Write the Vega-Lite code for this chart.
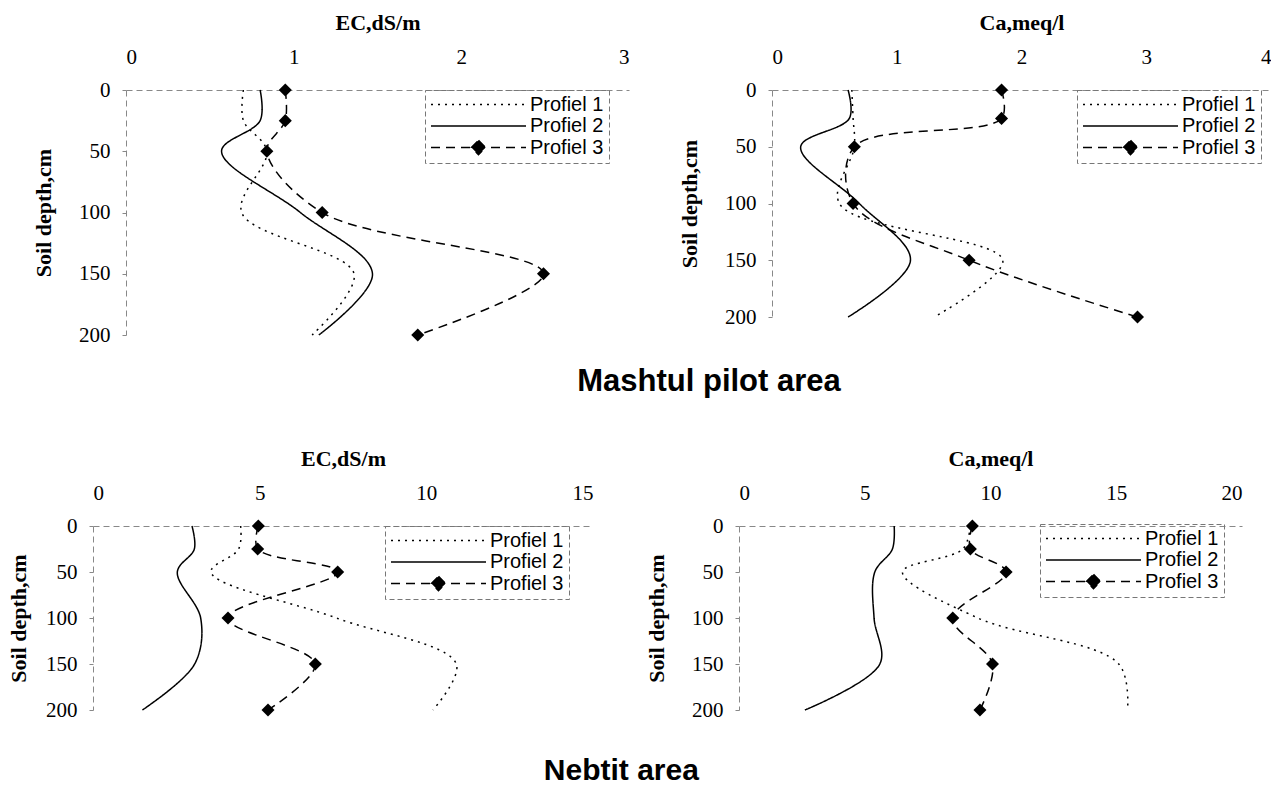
{
  "$schema": "https://vega.github.io/schema/vega-lite/v6.json",
  "background": "white",
  "padding": {"left": 0, "top": 11, "right": 0, "bottom": 0},
  "config": {
    "view": {"stroke": null},
    "font": "Liberation Serif",
    "style": {"guide-label": {"font": "Liberation Serif"}, "guide-title": {"font": "Liberation Serif"}},
    "axis": {
      "grid": false,
      "labelFont": "Liberation Serif",
      "labelFontSize": 21,
      "labelColor": "black",
      "titleFont": "Liberation Serif",
      "titleFontWeight": "bold",
      "titleFontSize": 22,
      "titleColor": "black",
      "domainColor": "#888888",
      "domainDash": [6, 4],
      "tickColor": "#888888",
      "tickSize": 4,
      "format": "d"
    },
    "axisX": {"labelPadding": 23, "titlePadding": 12, "ticks": false},
    "axisY": {"labelPadding": 12, "titlePadding": 23},
    "legend": {
      "title": null,
      "orient": "none",
      "legendX": 300,
      "legendY": 0,
      "symbolType": "stroke",
      "symbolSize": 9025,
      "clipHeight": 19,
      "rowPadding": 0.5,
      "labelOffset": 3,
      "labelFont": "Liberation Sans",
      "labelFontSize": 20,
      "labelColor": "black",
      "symbolStrokeColor": "black",
      "symbolStrokeWidth": 1.5,
      "strokeColor": "#777777",
      "padding": 5
    }
  },
  "datasets": {
    "ecm": [
      {"profile": "Profiel 1", "depth": 0, "value": 0.70},
      {"profile": "Profiel 1", "depth": 25, "value": 0.70},
      {"profile": "Profiel 1", "depth": 50, "value": 0.84},
      {"profile": "Profiel 1", "depth": 100, "value": 0.69},
      {"profile": "Profiel 1", "depth": 150, "value": 1.36},
      {"profile": "Profiel 1", "depth": 200, "value": 1.11},
      {"profile": "Profiel 2", "depth": 0, "value": 0.80},
      {"profile": "Profiel 2", "depth": 25, "value": 0.80},
      {"profile": "Profiel 2", "depth": 50, "value": 0.57},
      {"profile": "Profiel 2", "depth": 100, "value": 1.04},
      {"profile": "Profiel 2", "depth": 150, "value": 1.47},
      {"profile": "Profiel 2", "depth": 200, "value": 1.15},
      {"profile": "Profiel 3", "depth": 0, "value": 0.95},
      {"profile": "Profiel 3", "depth": 25, "value": 0.95},
      {"profile": "Profiel 3", "depth": 50, "value": 0.84},
      {"profile": "Profiel 3", "depth": 100, "value": 1.17},
      {"profile": "Profiel 3", "depth": 150, "value": 2.49},
      {"profile": "Profiel 3", "depth": 200, "value": 1.74}
    ],
    "cam": [
      {"profile": "Profiel 1", "depth": 0, "value": 0.64},
      {"profile": "Profiel 1", "depth": 25, "value": 0.65},
      {"profile": "Profiel 1", "depth": 50, "value": 0.66},
      {"profile": "Profiel 1", "depth": 100, "value": 0.54},
      {"profile": "Profiel 1", "depth": 150, "value": 1.85},
      {"profile": "Profiel 1", "depth": 200, "value": 1.30},
      {"profile": "Profiel 2", "depth": 0, "value": 0.61},
      {"profile": "Profiel 2", "depth": 25, "value": 0.62},
      {"profile": "Profiel 2", "depth": 50, "value": 0.23},
      {"profile": "Profiel 2", "depth": 100, "value": 0.70},
      {"profile": "Profiel 2", "depth": 150, "value": 1.11},
      {"profile": "Profiel 2", "depth": 200, "value": 0.61},
      {"profile": "Profiel 3", "depth": 0, "value": 1.84},
      {"profile": "Profiel 3", "depth": 25, "value": 1.84},
      {"profile": "Profiel 3", "depth": 50, "value": 0.66},
      {"profile": "Profiel 3", "depth": 100, "value": 0.65},
      {"profile": "Profiel 3", "depth": 150, "value": 1.58},
      {"profile": "Profiel 3", "depth": 200, "value": 2.93}
    ],
    "ecn": [
      {"profile": "Profiel 1", "depth": 0, "value": 4.43},
      {"profile": "Profiel 1", "depth": 25, "value": 4.37},
      {"profile": "Profiel 1", "depth": 50, "value": 3.54},
      {"profile": "Profiel 1", "depth": 100, "value": 7.3},
      {"profile": "Profiel 1", "depth": 150, "value": 10.9},
      {"profile": "Profiel 1", "depth": 200, "value": 10.2},
      {"profile": "Profiel 2", "depth": 0, "value": 2.97},
      {"profile": "Profiel 2", "depth": 25, "value": 3.04},
      {"profile": "Profiel 2", "depth": 50, "value": 2.53},
      {"profile": "Profiel 2", "depth": 100, "value": 3.23},
      {"profile": "Profiel 2", "depth": 150, "value": 3.05},
      {"profile": "Profiel 2", "depth": 200, "value": 1.48},
      {"profile": "Profiel 3", "depth": 0, "value": 4.96},
      {"profile": "Profiel 3", "depth": 25, "value": 4.94},
      {"profile": "Profiel 3", "depth": 50, "value": 7.34},
      {"profile": "Profiel 3", "depth": 100, "value": 4.05},
      {"profile": "Profiel 3", "depth": 150, "value": 6.67},
      {"profile": "Profiel 3", "depth": 200, "value": 5.25}
    ],
    "can": [
      {"profile": "Profiel 1", "depth": 0, "value": 9.2},
      {"profile": "Profiel 1", "depth": 25, "value": 8.9},
      {"profile": "Profiel 1", "depth": 50, "value": 6.5},
      {"profile": "Profiel 1", "depth": 100, "value": 9.5},
      {"profile": "Profiel 1", "depth": 150, "value": 15.1},
      {"profile": "Profiel 1", "depth": 200, "value": 15.45},
      {"profile": "Profiel 2", "depth": 0, "value": 6.17},
      {"profile": "Profiel 2", "depth": 25, "value": 6.1},
      {"profile": "Profiel 2", "depth": 50, "value": 5.4},
      {"profile": "Profiel 2", "depth": 100, "value": 5.37},
      {"profile": "Profiel 2", "depth": 150, "value": 5.6},
      {"profile": "Profiel 2", "depth": 200, "value": 2.62},
      {"profile": "Profiel 3", "depth": 0, "value": 9.28},
      {"profile": "Profiel 3", "depth": 25, "value": 9.2},
      {"profile": "Profiel 3", "depth": 50, "value": 10.62},
      {"profile": "Profiel 3", "depth": 100, "value": 8.5},
      {"profile": "Profiel 3", "depth": 150, "value": 10.08},
      {"profile": "Profiel 3", "depth": 200, "value": 9.58}
    ]
  },
  "spacing": 50,
  "resolve": {"scale": {"strokeDash": "independent"}},
  "vconcat": [
    {
      "title": {"text": "Mashtul pilot area", "orient": "bottom", "anchor": "middle", "font": "Liberation Sans", "fontSize": 31, "fontWeight": "bold", "color": "black", "offset": 22, "dx": 72},
      "columns": 2,
      "align": "none",
      "spacing": 0,
      "resolve": {"scale": {"strokeDash": "independent"}},
      "concat": [
        {"width": 29, "height": 10, "data": {"values": [{"a": 1}]}, "mark": {"type": "point", "opacity": 0}, "encoding": {}},
        {
          "spacing": 49,
          "resolve": {"scale": {"strokeDash": "independent"}},
          "hconcat": [
            {
              "width": 503, "height": 245,
              "data": {"name": "ecm"},
              "layer": [
                {"mark": {"type": "line", "interpolate": "catmull-rom", "color": "black", "strokeWidth": 1.5},
                 "encoding": {
                   "x": {"field": "value", "type": "quantitative", "scale": {"domain": [0, 3], "nice": false}, "axis": {"orient": "top", "values": [0, 1, 2, 3], "title": "EC,dS/m"}},
                   "y": {"field": "depth", "type": "quantitative", "scale": {"domain": [0, 200], "reverse": true, "nice": false}, "axis": {"values": [0, 50, 100, 150, 200], "title": "Soil depth,cm"}},
                   "strokeDash": {"field": "profile", "type": "nominal", "scale": {"domain": ["Profiel 1", "Profiel 2", "Profiel 3"], "range": [[2, 5], [1, 0], [9, 6]]},
                     "legend": {"legendX": 299, "legendY": 0, "encode": {"symbols": {"update": {"stroke": {"value": "black"}, "strokeWidth": {"value": 1.5}, "shape": {"signal": "datum.value === 'Profiel 3' ? 'M-1,0H1M0,-0.15L0.15,0L0,0.15L-0.15,0Z' : 'stroke'"}, "fill": {"signal": "datum.value === 'Profiel 3' ? 'black' : 'transparent'"}}}, "legend": {"update": {"strokeDash": {"value": [5, 3]}}}}}},
                   "order": {"field": "depth", "type": "quantitative"}
                 }},
                {"transform": [{"filter": "datum.profile === 'Profiel 3'"}],
                 "mark": {"type": "point", "shape": "diamond", "filled": true, "color": "black", "size": 170, "opacity": 1},
                 "encoding": {"x": {"field": "value", "type": "quantitative"}, "y": {"field": "depth", "type": "quantitative"}}}
              ]
            },
            {
              "width": 499, "height": 227,
              "data": {"name": "cam"},
              "layer": [
                {"mark": {"type": "line", "interpolate": "catmull-rom", "color": "black", "strokeWidth": 1.5},
                 "encoding": {
                   "x": {"field": "value", "type": "quantitative", "scale": {"domain": [0, 4], "nice": false}, "axis": {"orient": "top", "values": [0, 1, 2, 3, 4], "title": "Ca,meq/l"}},
                   "y": {"field": "depth", "type": "quantitative", "scale": {"domain": [0, 200], "reverse": true, "nice": false}, "axis": {"values": [0, 50, 100, 150, 200], "title": "Soil depth,cm"}},
                   "strokeDash": {"field": "profile", "type": "nominal", "scale": {"domain": ["Profiel 1", "Profiel 2", "Profiel 3"], "range": [[2, 5], [1, 0], [9, 6]]},
                     "legend": {"legendX": 305, "legendY": 0, "encode": {"symbols": {"update": {"stroke": {"value": "black"}, "strokeWidth": {"value": 1.5}, "shape": {"signal": "datum.value === 'Profiel 3' ? 'M-1,0H1M0,-0.15L0.15,0L0,0.15L-0.15,0Z' : 'stroke'"}, "fill": {"signal": "datum.value === 'Profiel 3' ? 'black' : 'transparent'"}}}, "legend": {"update": {"strokeDash": {"value": [5, 3]}}}}}},
                   "order": {"field": "depth", "type": "quantitative"}
                 }},
                {"transform": [{"filter": "datum.profile === 'Profiel 3'"}],
                 "mark": {"type": "point", "shape": "diamond", "filled": true, "color": "black", "size": 170, "opacity": 1},
                 "encoding": {"x": {"field": "value", "type": "quantitative"}, "y": {"field": "depth", "type": "quantitative"}}}
              ]
            }
          ]
        }
      ]
    },
    {
      "title": {"text": "Nebtit area", "orient": "bottom", "anchor": "middle", "font": "Liberation Sans", "fontSize": 30, "fontWeight": "bold", "color": "black", "offset": 36},
      "columns": 2,
      "align": "none",
      "spacing": 0,
      "resolve": {"scale": {"strokeDash": "independent"}},
      "concat": [
        {"width": 1, "height": 10, "data": {"values": [{"a": 1}]}, "mark": {"type": "point", "opacity": 0}, "encoding": {}},
        {
          "spacing": 52,
          "resolve": {"scale": {"strokeDash": "independent"}},
          "hconcat": [
            {
              "width": 500, "height": 184,
              "data": {"name": "ecn"},
              "layer": [
                {"mark": {"type": "line", "interpolate": "catmull-rom", "color": "black", "strokeWidth": 1.5},
                 "encoding": {
                   "x": {"field": "value", "type": "quantitative", "scale": {"domain": [0, 15], "nice": false}, "axis": {"orient": "top", "values": [0, 5, 10, 15], "title": "EC,dS/m"}},
                   "y": {"field": "depth", "type": "quantitative", "scale": {"domain": [0, 200], "reverse": true, "nice": false}, "axis": {"values": [0, 50, 100, 150, 200], "title": "Soil depth,cm", "titlePadding": 15}},
                   "strokeDash": {"field": "profile", "type": "nominal", "scale": {"domain": ["Profiel 1", "Profiel 2", "Profiel 3"], "range": [[2, 5], [1, 0], [9, 6]]},
                     "legend": {"legendX": 292, "legendY": 0, "encode": {"symbols": {"update": {"stroke": {"value": "black"}, "strokeWidth": {"value": 1.5}, "shape": {"signal": "datum.value === 'Profiel 3' ? 'M-1,0H1M0,-0.15L0.15,0L0,0.15L-0.15,0Z' : 'stroke'"}, "fill": {"signal": "datum.value === 'Profiel 3' ? 'black' : 'transparent'"}}}, "legend": {"update": {"strokeDash": {"value": [5, 3]}}}}}},
                   "order": {"field": "depth", "type": "quantitative"}
                 }},
                {"transform": [{"filter": "datum.profile === 'Profiel 3'"}],
                 "mark": {"type": "point", "shape": "diamond", "filled": true, "color": "black", "size": 170, "opacity": 1},
                 "encoding": {"x": {"field": "value", "type": "quantitative"}, "y": {"field": "depth", "type": "quantitative"}}}
              ]
            },
            {
              "width": 503, "height": 184,
              "data": {"name": "can"},
              "layer": [
                {"mark": {"type": "line", "interpolate": "catmull-rom", "color": "black", "strokeWidth": 1.5},
                 "encoding": {
                   "x": {"field": "value", "type": "quantitative", "scale": {"domain": [0, 20], "nice": false}, "axis": {"orient": "top", "values": [0, 5, 10, 15, 20], "title": "Ca,meq/l"}},
                   "y": {"field": "depth", "type": "quantitative", "scale": {"domain": [0, 200], "reverse": true, "nice": false}, "axis": {"values": [0, 50, 100, 150, 200], "title": "Soil depth,cm"}},
                   "strokeDash": {"field": "profile", "type": "nominal", "scale": {"domain": ["Profiel 1", "Profiel 2", "Profiel 3"], "range": [[2, 5], [1, 0], [9, 6]]},
                     "legend": {"legendX": 301, "legendY": -2, "encode": {"symbols": {"update": {"stroke": {"value": "black"}, "strokeWidth": {"value": 1.5}, "shape": {"signal": "datum.value === 'Profiel 3' ? 'M-1,0H1M0,-0.15L0.15,0L0,0.15L-0.15,0Z' : 'stroke'"}, "fill": {"signal": "datum.value === 'Profiel 3' ? 'black' : 'transparent'"}}}, "legend": {"update": {"strokeDash": {"value": [5, 3]}}}}}},
                   "order": {"field": "depth", "type": "quantitative"}
                 }},
                {"transform": [{"filter": "datum.profile === 'Profiel 3'"}],
                 "mark": {"type": "point", "shape": "diamond", "filled": true, "color": "black", "size": 170, "opacity": 1},
                 "encoding": {"x": {"field": "value", "type": "quantitative"}, "y": {"field": "depth", "type": "quantitative"}}}
              ]
            }
          ]
        }
      ]
    }
  ]
}
